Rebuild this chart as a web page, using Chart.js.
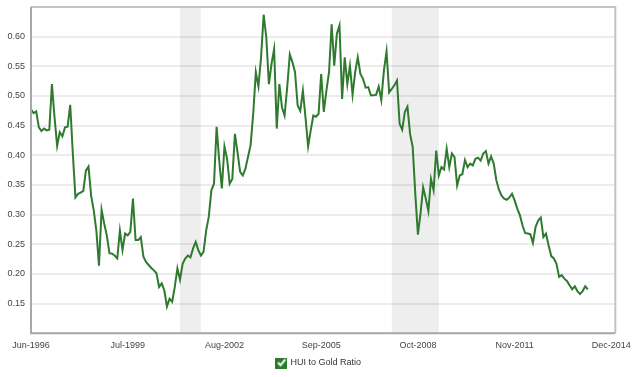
<!DOCTYPE html>
<html>
<head>
<meta charset="utf-8">
<title>HUI to Gold Ratio</title>
<script src="https://cdn.jsdelivr.net/npm/chart.js@4/dist/chart.umd.min.js"></script>
<style>
  html, body { margin: 0; padding: 0; background: #fff; }
  canvas { display: block; }
</style>
</head>
<body>
<canvas id="grafica" width="638" height="377"></canvas>
<script>
// monthly values, first month = Jun-1996 (x = months since Jun-1996)
const ratio = [
  0.477, 0.471, 0.474, 0.447, 0.441, 0.445, 0.442, 0.443, 0.520, 0.464,
  0.416, 0.439, 0.432, 0.447, 0.448, 0.485, 0.403, 0.329, 0.335, 0.337,
  0.340, 0.374, 0.381, 0.332, 0.307, 0.273, 0.214, 0.308, 0.285, 0.265,
  0.235, 0.234, 0.231, 0.226, 0.273, 0.240, 0.268, 0.265, 0.271, 0.327,
  0.257, 0.257, 0.262, 0.229, 0.220, 0.215, 0.210, 0.206, 0.201, 0.178,
  0.184, 0.172, 0.145, 0.158, 0.153, 0.178, 0.209, 0.190, 0.217, 0.226,
  0.231, 0.228, 0.243, 0.254, 0.240, 0.231, 0.237, 0.273, 0.296, 0.341,
  0.352, 0.448, 0.391, 0.344, 0.415, 0.394, 0.352, 0.360, 0.436, 0.405,
  0.372, 0.366, 0.377, 0.397, 0.417, 0.470, 0.540, 0.516, 0.565, 0.637,
  0.599, 0.520, 0.554, 0.579, 0.445, 0.520, 0.481, 0.467, 0.515, 0.570,
  0.557, 0.540, 0.484, 0.475, 0.509, 0.464, 0.415, 0.442, 0.467, 0.465,
  0.470, 0.537, 0.473, 0.509, 0.540, 0.621, 0.551, 0.605, 0.619, 0.495,
  0.565, 0.520, 0.551, 0.502, 0.540, 0.565, 0.537, 0.529, 0.514, 0.515,
  0.501, 0.501, 0.502, 0.516, 0.493, 0.543, 0.575, 0.506, 0.512, 0.518,
  0.526, 0.453, 0.443, 0.473, 0.482, 0.436, 0.414, 0.335, 0.266, 0.302,
  0.346, 0.327, 0.306, 0.360, 0.341, 0.408, 0.366, 0.380, 0.376, 0.411,
  0.380, 0.403, 0.397, 0.349, 0.366, 0.368, 0.392, 0.380, 0.386, 0.383,
  0.394, 0.396, 0.391, 0.403, 0.407, 0.386, 0.398, 0.386, 0.358, 0.342,
  0.332, 0.327, 0.325, 0.329, 0.335, 0.324, 0.310, 0.299, 0.282, 0.269,
  0.268, 0.267, 0.252, 0.279, 0.290, 0.295, 0.262, 0.268, 0.248, 0.230,
  0.226, 0.217, 0.195, 0.198, 0.192, 0.188, 0.181, 0.174, 0.179, 0.171,
  0.166, 0.171, 0.179, 0.174
];

// x axis ticks (months since Jun-1996) and their labels
const xTicks = [0, 37, 74, 111, 148, 185, 222];
const xLabels = ['Jun-1996', 'Jul-1999', 'Aug-2002', 'Sep-2005', 'Oct-2008', 'Nov-2011', 'Dec-2014'];

// y axis
const yTicks = [0.10, 0.15, 0.20, 0.25, 0.30, 0.35, 0.40, 0.45, 0.50, 0.55, 0.60, 0.65];
const yLabelled = [0.15, 0.20, 0.25, 0.30, 0.35, 0.40, 0.45, 0.50, 0.55, 0.60];

// recessions: Mar-2001 to Nov-2001, Dec-2007 to Jun-2009
const recessionStart = [57, 138];
const recessionEnd = [65, 156];

const serieLabel = 'HUI to Gold Ratio';
const verde = '#2f7a2f';

// icono del checkbox para la leyenda
const check = document.createElement('canvas');
check.width = 12;
check.height = 12;
const cctx = check.getContext('2d');
cctx.fillStyle = '#2b7a2b';
cctx.fillRect(0, 0, 12, 12);
cctx.strokeStyle = '#ffffff';
cctx.lineWidth = 2;
cctx.beginPath();
cctx.moveTo(2.5, 6);
cctx.lineTo(5, 8.8);
cctx.lineTo(9.8, 2.8);
cctx.stroke();

const bandas = {
  id: 'bandas',
  beforeDatasetsDraw(chart) {
    const { ctx, chartArea, scales } = chart;
    ctx.save();
    ctx.fillStyle = 'rgba(0,0,0,0.065)';
    for (let i = 0; i < recessionStart.length; i++) {
      const x1 = scales.x.getPixelForValue(recessionStart[i]);
      const x2 = scales.x.getPixelForValue(recessionEnd[i]);
      ctx.fillRect(x1, chartArea.top, x2 - x1, chartArea.bottom - chartArea.top);
    }
    ctx.restore();
  }
};

const marco = {
  id: 'marco',
  afterDatasetsDraw(chart) {
    const { ctx, chartArea } = chart;
    ctx.save();
    ctx.lineWidth = 2;
    ctx.strokeStyle = '#c4c4c4';
    ctx.beginPath();
    ctx.moveTo(chartArea.left, chartArea.top);
    ctx.lineTo(chartArea.right, chartArea.top);
    ctx.lineTo(chartArea.right, chartArea.bottom);
    ctx.stroke();
    ctx.strokeStyle = '#a8a8a8';
    ctx.beginPath();
    ctx.moveTo(chartArea.left, chartArea.top);
    ctx.lineTo(chartArea.left, chartArea.bottom);
    ctx.lineTo(chartArea.right, chartArea.bottom);
    ctx.stroke();
    ctx.restore();
  }
};

const sinPadding = axis => { axis.paddingTop = 0; axis.paddingBottom = 0; };

const fuente = { family: '"Liberation Sans", Arial, sans-serif', size: 9 };

new Chart(document.getElementById('grafica'), {
  type: 'line',
  data: {
    datasets: [{
      label: serieLabel,
      data: ratio.map((v, i) => ({ x: i, y: v })),
      borderColor: verde,
      backgroundColor: verde,
      borderWidth: 2,
      pointRadius: 0,
      tension: 0,
      fill: false
    }]
  },
  options: {
    responsive: false,
    animation: false,
    layout: { padding: { top: 7, right: 0, left: 0, bottom: 0 } },
    plugins: {
      tooltip: { enabled: false },
      legend: {
        position: 'bottom',
        labels: {
          font: fuente,
          color: '#333',
          usePointStyle: true,
          pointStyle: check,
          padding: 0,
          generateLabels: () => [{
            text: serieLabel,
            pointStyle: check,
            fillStyle: verde,
            strokeStyle: verde,
            lineWidth: 0,
            hidden: false,
            datasetIndex: 0,
            fontColor: '#333'
          }]
        }
      }
    },
    scales: {
      x: {
        type: 'linear',
        min: 0,
        max: 223.5,
        afterBuildTicks: axis => { axis.ticks = xTicks.map(v => ({ value: v })); },
        grid: { display: false, drawTicks: false },
        border: { display: false },
        ticks: {
          autoSkip: false,
          maxRotation: 0,
          padding: 7,
          font: fuente,
          color: '#444',
          callback: (v, i) => xLabels[i]
        }
      },
      y: {
        min: 0.10,
        max: 0.65,
        afterBuildTicks: axis => { axis.ticks = yTicks.map(v => ({ value: v })); },
        afterFit: axis => { axis.width = 31; sinPadding(axis); },
        grid: { color: '#ececec', lineWidth: 2, drawTicks: false },
        border: { display: false },
        ticks: {
          padding: 6,
          font: fuente,
          color: '#444',
          callback: v => (yLabelled.some(t => Math.abs(t - v) < 1e-6) ? v.toFixed(2) : '')
        }
      },
      // eje vacio a la derecha, solo para dejar margen
      y2: {
        position: 'right',
        afterFit: axis => { axis.width = 18; sinPadding(axis); },
        grid: { display: false },
        border: { display: false },
        ticks: { display: false }
      }
    }
  },
  plugins: [bandas, marco]
});
</script>
</body>
</html>
